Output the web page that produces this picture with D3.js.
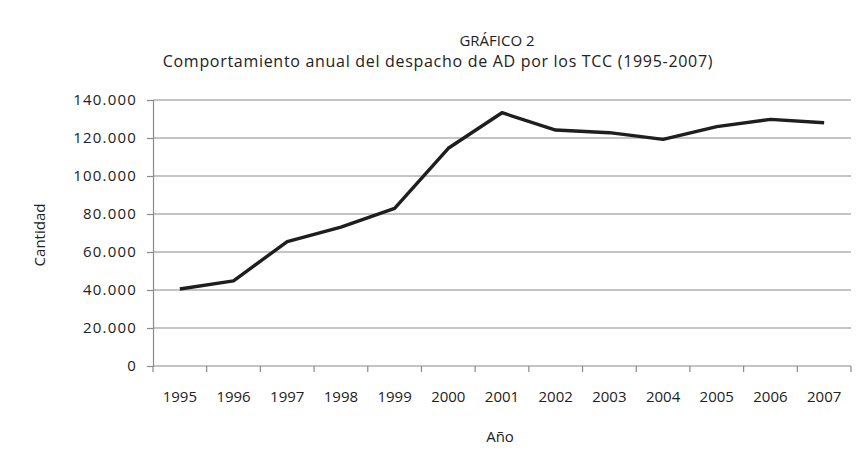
<!DOCTYPE html>
<html>
<head>
<meta charset="utf-8">
<script src="https://cdn.jsdelivr.net/npm/d3@7"></script>
<style>
  body { margin: 0; background: #fff; }
  text { font-family: "Open Sans", "Noto Sans", sans-serif; fill: #222; }
</style>
</head>
<body>
<div id="chart"></div>
<script>
const years = ['1995', '1996', '1997', '1998', '1999', '2000', '2001',
               '2002', '2003', '2004', '2005', '2006', '2007'];
const despacho = [40500, 44800, 65500, 73100, 83000, 114600, 133300,
                  124200, 122800, 119300, 126000, 129800, 128000];
const yTicks = [0, 20000, 40000, 60000, 80000, 100000, 120000, 140000];

const W = 863, H = 465;
const margin = { top: 100, right: 12, bottom: 99, left: 153 };
const width = W - margin.left - margin.right;
const height = H - margin.top - margin.bottom;

const svg = d3.select('#chart')
    .append('svg')
    .attr('width', W)
    .attr('height', H);

const g = svg.append('g')
    .attr('transform', `translate(${margin.left},${margin.top})`);

const x = d3.scaleBand()
    .domain(years)
    .range([0, width]);

const y = d3.scaleLinear()
    .domain([0, 140000])
    .range([height, 0]);

const fmt = d => d3.format(',')(d).replace(/,/g, '.');

// horizontal gridlines
g.selectAll('.grid')
    .data(yTicks.filter(d => d > 0))
    .enter()
    .append('line')
    .attr('x1', 0)
    .attr('x2', width)
    .attr('y1', d => y(d))
    .attr('y2', d => y(d))
    .attr('stroke', '#8a8a8a')
    .attr('stroke-width', 1.2);

// y axis
const yAxis = g.append('g')
    .call(d3.axisLeft(y).tickValues(yTicks).tickFormat(fmt).tickSize(6).tickPadding(10));
yAxis.select('.domain').attr('stroke', '#8a8a8a').attr('stroke-width', 1.2);
yAxis.selectAll('.tick line').attr('stroke', '#8a8a8a').attr('stroke-width', 1.2);
yAxis.selectAll('text')
    .style('font-size', '15px')
    .style('letter-spacing', '1.2px')
    .attr('fill', '#222');

// x axis: ticks at band boundaries
const xAxis = g.append('g')
    .attr('transform', `translate(0,${height})`);
xAxis.append('line')
    .attr('x1', 0).attr('x2', width)
    .attr('stroke', '#8a8a8a').attr('stroke-width', 1.2);
const bounds = years.map(d => x(d)).concat([width]);
xAxis.selectAll('.xtick')
    .data(bounds)
    .enter()
    .append('line')
    .attr('x1', d => d).attr('x2', d => d)
    .attr('y1', 0).attr('y2', 6)
    .attr('stroke', '#8a8a8a').attr('stroke-width', 1.2);
xAxis.selectAll('.xlabel')
    .data(years)
    .enter()
    .append('text')
    .attr('x', d => x(d) + x.bandwidth() / 2)
    .attr('y', 36)
    .attr('text-anchor', 'middle')
    .style('font-size', '15px')
    .text(d => d);

// the line
const line = d3.line()
    .x((d, i) => x(years[i]) + x.bandwidth() / 2)
    .y(d => y(d));

g.append('path')
    .datum(despacho)
    .attr('fill', 'none')
    .attr('stroke', '#1e1e1e')
    .attr('stroke-width', 3.4)
    .attr('stroke-linejoin', 'round')
    .attr('d', line);

// titles
svg.append('text')
    .attr('x', 497).attr('y', 46)
    .attr('text-anchor', 'middle')
    .style('font-size', '15px')
    .text('GRÁFICO 2');

svg.append('text')
    .attr('x', 438).attr('y', 67)
    .attr('text-anchor', 'middle')
    .style('font-size', '16px')
    .style('letter-spacing', '0.7px')
    .text('Comportamiento anual del despacho de AD por los TCC (1995-2007)');

svg.append('text')
    .attr('x', 500).attr('y', 442)
    .attr('text-anchor', 'middle')
    .style('font-size', '15px')
    .text('Año');

svg.append('text')
    .attr('transform', 'translate(45,235) rotate(-90)')
    .attr('text-anchor', 'middle')
    .style('font-size', '15px')
    .text('Cantidad');
</script>
</body>
</html>
